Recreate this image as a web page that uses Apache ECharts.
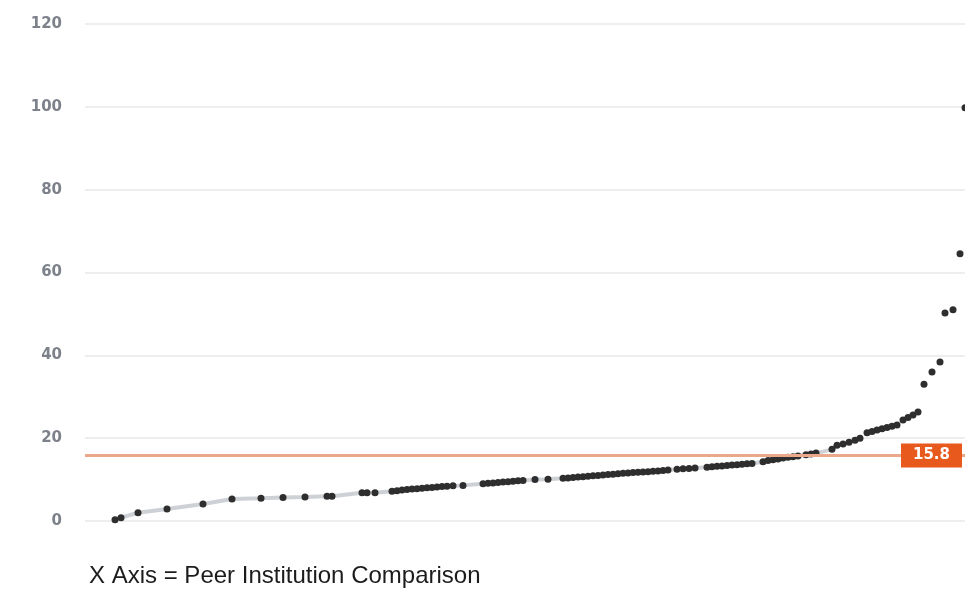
<!DOCTYPE html>
<html>
<head>
<meta charset="utf-8">
<script src="https://cdn.jsdelivr.net/npm/echarts@6/dist/echarts.min.js"></script>
<style>
  html, body { margin: 0; padding: 0; background: #ffffff; }
  #chart { width: 965px; height: 590px; }
</style>
</head>
<body>
<div id="chart"></div>
<script>
// Peer institution rank positions (x) and values (y)
var rankPositions = [
  6, 7.2, 10.6, 16.4, 23.6, 29.4, 35.2, 39.6, 44, 48.4, 49.4, 55.4, 56.4, 58,
  61.4, 62.4, 63.4, 64.4, 65.4, 66.4, 67.4, 68.4, 69.4, 70.4, 71.4, 72.4, 73.6,
  75.6,
  79.6, 80.6, 81.6, 82.6, 83.6, 84.6, 85.6, 86.6, 87.6,
  90, 92.6,
  95.6, 96.6, 97.6, 98.6, 99.6, 100.6, 101.6, 102.6, 103.6, 104.6, 105.6,
  106.6, 107.6, 108.6, 109.6, 110.6, 111.6, 112.6, 113.6, 114.6, 115.6, 116.6,
  118.4, 119.6, 120.8, 122,
  124.4, 125.4, 126.4, 127.4, 128.4, 129.4, 130.4, 131.4, 132.4, 133.4,
  135.6, 136.6, 137.6, 138.6, 139.6, 140.6, 141.6, 142.6,
  144.2, 145.2, 146.2,
  149.4,
  150.4, 151.6, 152.8, 154, 155,
  156.4, 157.4, 158.4, 159.4, 160.4, 161.4, 162.4,
  163.6, 164.6, 165.6, 166.6,
  167.8, 169.4, 171, 172, 173.6, 175, 176
];
var values = [
  0.3, 0.8, 2.0, 2.9, 4.1, 5.3, 5.5, 5.7, 5.8, 6.0, 6.0, 6.8, 6.8, 6.8,
  7.2, 7.3, 7.5, 7.6, 7.7, 7.8, 7.9, 8.0, 8.1, 8.2, 8.3, 8.4, 8.5,
  8.6,
  9.0, 9.1, 9.2, 9.3, 9.4, 9.5, 9.6, 9.7, 9.8,
  10.0, 10.1,
  10.3, 10.4, 10.5, 10.6, 10.7, 10.8, 10.9, 11.0, 11.1, 11.2, 11.3,
  11.4, 11.5, 11.6, 11.7, 11.8, 11.85, 11.9, 12.0, 12.1, 12.2, 12.3,
  12.5, 12.6, 12.7, 12.8,
  13.0, 13.1, 13.2, 13.3, 13.4, 13.5, 13.6, 13.7, 13.8, 13.9,
  14.3, 14.6, 14.8, 15.0, 15.2, 15.4, 15.5, 15.7,
  16.0, 16.2, 16.4,
  17.3,
  18.3, 18.6, 19.0, 19.5, 20.0,
  21.3, 21.6, 22.0, 22.3, 22.6, 22.9, 23.2,
  24.4, 25.0, 25.6, 26.3,
  33, 36, 38.4, 50.2, 51, 64.5, 99.8
];
var yTicks = [0, 20, 40, 60, 80, 100, 120];
var referenceValue = 15.8;
var xAxisTitle = 'X Axis = Peer Institution Comparison';

var points = rankPositions.map(function (x, i) { return [x, values[i]]; });

var chart = echarts.init(document.getElementById('chart'), null, { renderer: 'canvas' });
chart.setOption({
  animation: false,
  backgroundColor: '#ffffff',
  title: {
    text: xAxisTitle,
    left: 89,
    top: 564,
    padding: 0,
    textStyle: {
      fontFamily: 'Liberation Sans, Arial, sans-serif',
      fontSize: 24,
      fontWeight: 'normal',
      color: '#1c1c1c'
    }
  },
  grid: { left: 85, right: 0, top: 24, bottom: 69, containLabel: false },
  xAxis: {
    type: 'value',
    min: 0,
    max: 176,
    show: false,
    splitLine: { show: false }
  },
  yAxis: {
    type: 'value',
    min: yTicks[0],
    max: yTicks[yTicks.length - 1],
    interval: 20,
    axisLine: { show: false },
    axisTick: { show: false },
    axisLabel: {
      margin: 23,
      color: '#7d828a',
      fontFamily: 'DejaVu Sans, sans-serif',
      fontWeight: 'bold',
      fontSize: 15,
      verticalAlign: 'middle',
      padding: [0, 0, 5, 0]
    },
    splitLine: { lineStyle: { color: '#eeeeee', width: 2 } }
  },
  series: [{
    type: 'line',
    data: points,
    showAllSymbol: true,
    symbol: 'circle',
    symbolSize: 7,
    itemStyle: { color: '#2e2e2e' },
    lineStyle: {
      width: 4,
      color: {
        type: 'linear', x: 0, y: 0, x2: 0, y2: 1,
        colorStops: [
          { offset: 0, color: 'rgba(200,204,209,0)' },
          { offset: 0.8, color: 'rgba(200,204,209,0)' },
          { offset: 0.83, color: 'rgba(200,204,209,0.9)' },
          { offset: 1, color: 'rgba(200,204,209,0.9)' }
        ]
      }
    },
    z: 3,
    markLine: {
      silent: true,
      symbol: 'none',
      animation: false,
      lineStyle: { color: '#eaa98a', width: 3, type: 'solid' },
      label: {
        show: true,
        position: 'insideEndTop',
        distance: [3, 0],
        verticalAlign: 'middle',
        formatter: String(referenceValue),
        backgroundColor: '#e8591e',
        color: '#ffffff',
        fontFamily: 'DejaVu Sans, sans-serif',
        fontWeight: 'bold',
        fontSize: 15,
        padding: [5, 12, 4, 12]
      },
      data: [{ yAxis: referenceValue }]
    }
  }]
});
</script>
</body>
</html>
